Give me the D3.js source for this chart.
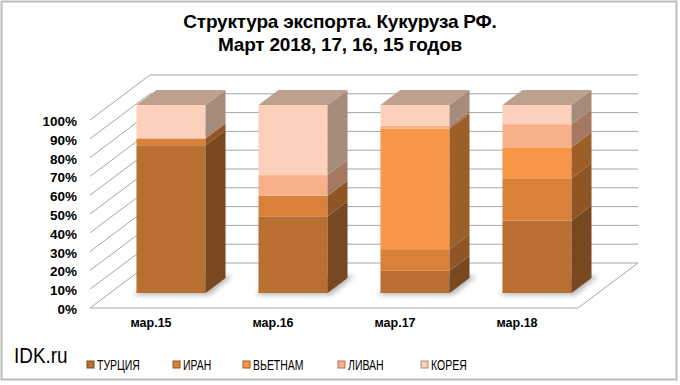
<!DOCTYPE html>
<html>
<head>
<meta charset="utf-8">
<script src="https://cdn.jsdelivr.net/npm/d3@7"></script>
<style>
  body { margin: 0; background: #fff; }
  svg { display: block; }
  text { font-family: "Liberation Sans", Arial, sans-serif; fill: #000; }
</style>
</head>
<body>
<svg></svg>
<script>
const categories = ['мар.15', 'мар.16', 'мар.17', 'мар.18'];
const seriesNames = ['ТУРЦИЯ', 'ИРАН', 'ВЬЕТНАМ', 'ЛИВАН', 'КОРЕЯ'];

// shares, %
const turkey = [78.6, 40.8, 11.8, 38.5];
const iran = [3.6, 10.9, 11.5, 22.5];
const vietnam = [0, 0, 64.2, 16.5];
const lebanon = [0, 11.0, 1.5, 12.3];
const korea = [17.8, 37.3, 11.0, 10.2];

const yTicks = [0, 10, 20, 30, 40, 50, 60, 70, 80, 90, 100];

const frontColors = ['#b96f32', '#d9813b', '#f69646', '#f8b08a', '#fcd0ba'];
const sideColors = ['#784820', '#8f5525', '#9d5f2a', '#a67862', '#a68a7c'];
const topColors = ['#8f6a4c', '#a87a58', '#b98860', '#b99a88', '#bea08f'];

const WIDTH = 680;
const HEIGHT = 385;
// full depth of the 3d box, bars sit between 1/3 and 2/3 of it
const DEPTH_X = 60;
const DEPTH_Y = -45;

const svg = d3.select('svg').attr('width', WIDTH).attr('height', HEIGHT);

const defs = svg.append('defs');
defs.append('filter').attr('id', 'blur')
    .attr('x', '-50%').attr('y', '-50%').attr('width', '200%').attr('height', '200%')
  .append('feGaussianBlur').attr('stdDeviation', 2.5);

svg.append('rect')
    .attr('x', 1.5).attr('y', 1.5)
    .attr('width', 675).attr('height', 378)
    .attr('fill', '#fff')
    .attr('stroke', '#bdbdbd')
    .attr('stroke-width', 2);

const x = d3.scaleBand()
    .domain(categories)
    .range([90, 578])
    .paddingInner(0.434)
    .paddingOuter(0.217);

const y = d3.scaleLinear()
    .domain([0, 100])
    .range([308, 120]);

const proj = (px, py, d) => [px + d * DEPTH_X, py + d * DEPTH_Y];
const poly = (pts) => pts.map((p) => p.join(',')).join(' ');

// walls: left side wall lines + back wall gridlines
const walls = svg.append('g')
    .attr('stroke', '#a6a6a6')
    .attr('stroke-width', 1)
    .attr('fill', 'none');

yTicks.forEach((t) => {
  const a = [x.range()[0], y(t)];
  const b = proj(a[0], a[1], 1);
  const c = proj(x.range()[1], y(t), 1);
  walls.append('polyline').attr('points', poly([a, b, c]));
});

// floor front and right edges
walls.append('polyline')
    .attr('points', poly([[x.range()[0], y(0)], [x.range()[1], y(0)], proj(x.range()[1], y(0), 1)]));

// data table
const rows = categories.map((c, i) => ({
  cat: c,
  'ТУРЦИЯ': turkey[i],
  'ИРАН': iran[i],
  'ВЬЕТНАМ': vietnam[i],
  'ЛИВАН': lebanon[i],
  'КОРЕЯ': korea[i],
}));
const stacked = d3.stack().keys(seriesNames)(rows);

const d0 = 1 / 3;
const d1 = 2 / 3;
const bw = x.bandwidth();

// floor shadows
svg.append('g').selectAll('polygon')
    .data(categories)
    .join('polygon')
    .attr('points', (c) => {
      const l = x(c) - 3;
      const r = x(c) + bw + 4;
      return poly([proj(l, y(0) + 2, d0), proj(r, y(0) + 2, d0), proj(r, y(0), d1 + 0.05), proj(l, y(0), d1 + 0.05)]);
    })
    .attr('fill', '#7f7f7f')
    .attr('opacity', 0.55)
    .attr('filter', 'url(#blur)');

// bars
const bars = svg.append('g');
categories.forEach((c, ci) => {
  const g = bars.append('g');
  const xl = x(c);
  const xr = x(c) + bw;
  let lastTop = null;
  stacked.forEach((layer, si) => {
    const [v0, v1] = layer[ci];
    if (v1 - v0 <= 0) return;
    const f0 = proj(xl, y(v1), d0);
    g.append('rect')
        .attr('x', f0[0])
        .attr('y', f0[1])
        .attr('width', bw)
        .attr('height', y(v0) - y(v1))
        .attr('fill', frontColors[si]);
    g.append('polygon')
        .attr('points', poly([
          proj(xr, y(v0), d0), proj(xr, y(v1), d0),
          proj(xr, y(v1), d1), proj(xr, y(v0), d1),
        ]))
        .attr('fill', sideColors[si]);
    lastTop = {v: v1, si};
  });
  if (lastTop) {
    g.append('polygon')
        .attr('points', poly([
          proj(xl, y(lastTop.v), d0), proj(xr, y(lastTop.v), d0),
          proj(xr, y(lastTop.v), d1), proj(xl, y(lastTop.v), d1),
        ]))
        .attr('fill', topColors[lastTop.si]);
  }
});

// axes
const yAxis = svg.append('g')
    .attr('transform', `translate(${x.range()[0]},0)`)
    .call(d3.axisLeft(y).tickValues(yTicks).tickFormat((d) => d + '%').tickSize(0).tickPadding(13));
yAxis.select('.domain').remove();
yAxis.selectAll('text')
    .attr('font-size', 13.5)
    .attr('font-weight', 'bold')
    .attr('font-family', '"Liberation Sans", Arial, sans-serif')
    .attr('dy', '0.4em');

const xAxis = svg.append('g')
    .attr('transform', `translate(0,${y(0)})`)
    .call(d3.axisBottom(x).tickSize(0).tickPadding(10));
xAxis.select('.domain').remove();
xAxis.selectAll('text')
    .attr('font-size', 12.5)
    .attr('font-weight', 'bold')
    .attr('font-family', '"Liberation Sans", Arial, sans-serif');

// title
const title = svg.append('text')
    .attr('x', 340)
    .attr('text-anchor', 'middle')
    .attr('font-size', 19)
    .attr('font-weight', 'bold')
    .attr('letter-spacing', -0.2);
title.append('tspan').attr('x', 340).attr('y', 28).text('Структура экспорта. Кукуруза РФ.');
title.append('tspan').attr('x', 340).attr('y', 51).text('Март 2018, 17, 16, 15 годов');

// watermark
svg.append('text')
    .attr('transform', 'translate(14,363) scale(0.86,1)')
    .attr('font-size', 22)
    .text('IDK.ru');

// legend
const legendX = [87, 173, 243, 338, 421];
const legend = svg.append('g')
    .selectAll('g')
    .data(seriesNames)
    .join('g')
    .attr('transform', (d, i) => `translate(${legendX[i]},361)`);
legend.append('rect')
    .attr('width', 7)
    .attr('height', 7)
    .attr('fill', (d, i) => frontColors[i])
    .attr('stroke', (d, i) => sideColors[i])
    .attr('stroke-width', 1);
legend.append('text')
    .attr('transform', 'translate(10,8.5) scale(0.75,1)')
    .attr('font-size', 14)
    .text((d) => d);
</script>
</body>
</html>
